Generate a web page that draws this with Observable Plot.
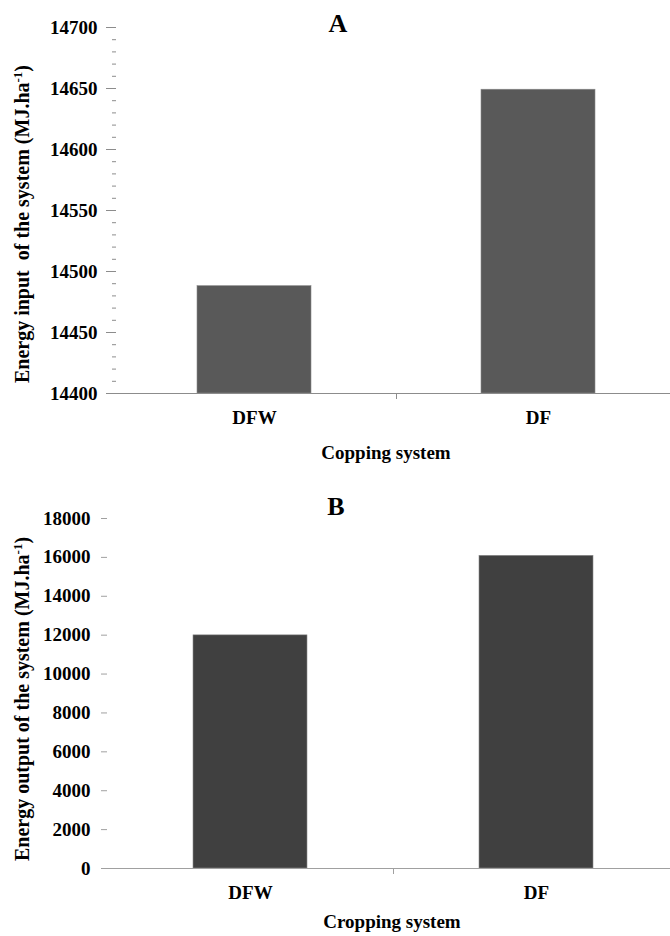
<!DOCTYPE html>
<html>
<head>
<meta charset="utf-8">
<script src="https://cdn.jsdelivr.net/npm/d3@7"></script>
<script src="https://cdn.jsdelivr.net/npm/@observablehq/plot@0.6"></script>
<style>
  html, body { margin: 0; padding: 0; background: #fff; }
  #wrap { position: relative; width: 670px; height: 936px; overflow: hidden; }
  #wrap svg { position: absolute; left: 0; overflow: hidden; }
</style>
</head>
<body>
<div id="wrap"></div>
<script>
// ---- data ----
const categories = ["DFW", "DF"];
const inputValues = [14488, 14649];     // panel A, MJ/ha
const outputValues = [11990, 16080];    // panel B, MJ/ha
const ticksA = [14400, 14450, 14500, 14550, 14600, 14650, 14700];
const minorTicksA = d3.range(14400, 14701, 10);
const ticksB = [0, 2000, 4000, 6000, 8000, 10000, 12000, 14000, 16000, 18000];
const titleA = "A", titleB = "B";
const xLabelA = "Copping system", xLabelB = "Cropping system";
const yLabelA = ["Energy input  of the system (MJ.ha", "-1", ")"];
const yLabelB = ["Energy output of the system (MJ.ha", "-1", ")"];

const FONT = "'Liberation Serif', 'Times New Roman', serif";
const wrap = document.getElementById("wrap");

function panel({values, ticks, minor, fill, top, height, mTop, mBottom, left, right,
                tickSize, tickPad, yLabel, yLabelY, title, titleX, titleY,
                xLabel, xLabelX, xLabelY, axisColor}) {
  const dataRows = categories.map((c, i) => ({cat: c, v: values[i]}));
  const xOpts = {type: "band", domain: categories, range: [left, right], paddingInner: 0.6, paddingOuter: 0.3, align: 0.5};
  const step = Plot.scale({x: xOpts}).step;
  const yMin = ticks[0], yMax = ticks[ticks.length - 1];
  const marks = [
    Plot.barY(dataRows, {x: "cat", y1: () => yMin, y2: "v", fill: fill, stroke: "#8a8a8a", strokeWidth: 0.6}),
    Plot.ruleY([yMin], {stroke: axisColor, strokeWidth: 1.2}),
    Plot.ruleX([yMin], {x: () => left, y1: yMin, y2: yMax, stroke: axisColor, strokeWidth: 1.2}),
    Plot.axisY({ticks: ticks, tickSize: tickSize, tickPadding: tickPad, stroke: axisColor, color: "#000",
                tickFormat: d => String(d), label: null, fontSize: 19, fontWeight: "bold", fontFamily: FONT}),
    Plot.axisX({tickSize: 0, tickPadding: 17, label: null, fontSize: 19, fontWeight: "bold", color: "#000", fontFamily: FONT}),
    Plot.axisX({ticks: [categories[1]], tickSize: 6, text: null, label: null, stroke: axisColor, dx: -step / 2})
  ];
  if (minor) {
    marks.push(Plot.axisY({ticks: minor, tickSize: -4, text: null, label: null, stroke: axisColor}));
    marks.push(Plot.axisY({ticks: ticks, tickSize: -4, text: null, label: null, stroke: axisColor}));
  }
  const chart = Plot.plot({
    width: 670, height: height,
    marginTop: mTop, marginBottom: mBottom, marginLeft: left, marginRight: 0,
    style: {fontFamily: FONT, fontSize: "19px", fontWeight: "bold", color: "#000", background: "#fff"},
    x: xOpts,
    y: {domain: [yMin, yMax], ticks: ticks},
    marks: marks
  });
  chart.style.top = top + "px";
  const svg = d3.select(chart);
  // title
  svg.append("text").attr("x", titleX).attr("y", titleY).attr("text-anchor", "middle")
    .attr("font-family", FONT).attr("font-weight", "bold").attr("font-size", 26).attr("fill", "#000").text(title);
  // x label
  svg.append("text").attr("x", xLabelX).attr("y", xLabelY).attr("text-anchor", "middle")
    .attr("font-family", FONT).attr("font-weight", "bold").attr("font-size", 19).attr("fill", "#000").text(xLabel);
  // y label with superscript
  const yl = svg.append("text").attr("transform", `translate(29,${yLabelY}) rotate(-90)`).attr("text-anchor", "middle")
    .attr("font-family", FONT).attr("font-weight", "bold").attr("font-size", 20).attr("fill", "#000");
  yl.append("tspan").text(yLabel[0]);
  yl.append("tspan").attr("baseline-shift", "super").attr("font-size", 13).text(yLabel[1]);
  yl.append("tspan").text(yLabel[2]);
  wrap.appendChild(chart);
}

panel({values: inputValues, ticks: ticksA, minor: minorTicksA, fill: "#595959",
       top: 0, height: 470, mTop: 27, mBottom: 77, left: 112, right: 680,
       tickSize: 6, tickPad: 9, yLabel: yLabelA, yLabelY: 224,
       title: titleA, titleX: 338, titleY: 32, xLabel: xLabelA, xLabelX: 386, xLabelY: 459,
       axisColor: "#8c8c8c"});

panel({values: outputValues, ticks: ticksB, minor: null, fill: "#404040",
       top: 470, height: 466, mTop: 48, mBottom: 68, left: 107, right: 679,
       tickSize: 6, tickPad: 11, yLabel: yLabelB, yLabelY: 229,
       title: titleB, titleX: 336, titleY: 45, xLabel: xLabelB, xLabelX: 392, xLabelY: 458,
       axisColor: "#a0a0a0"});
</script>
</body>
</html>
